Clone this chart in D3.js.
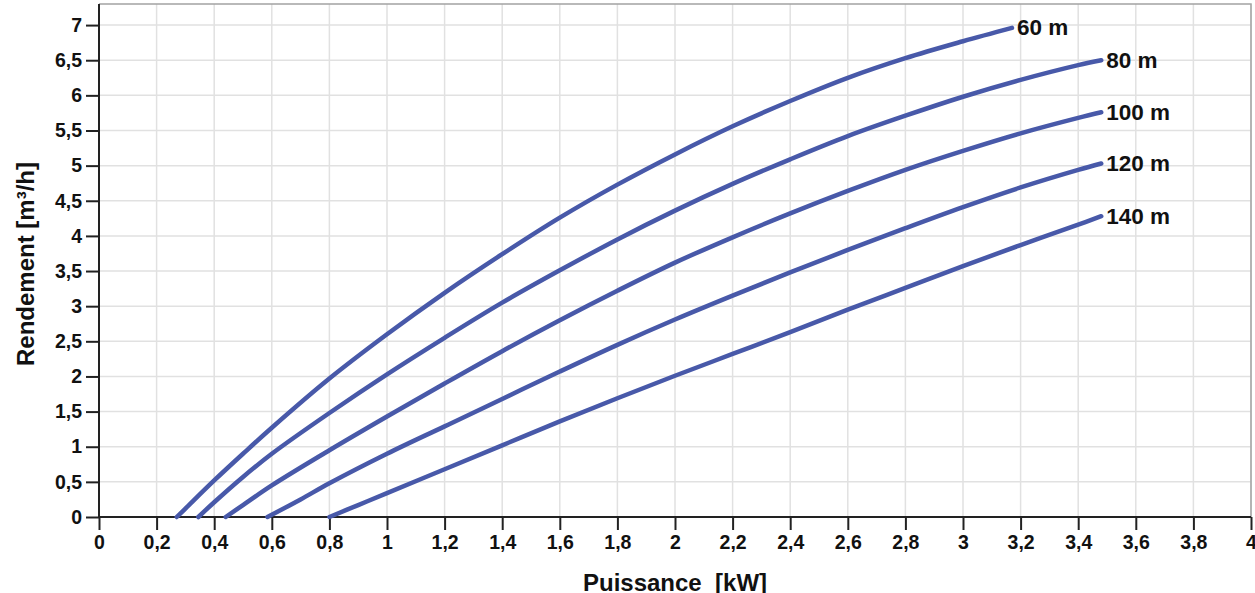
<!DOCTYPE html>
<html>
<head>
<meta charset="utf-8">
<title>Rendement / Puissance</title>
<script src="https://cdn.jsdelivr.net/npm/d3@7"></script>
<style>
    body { margin: 0; background: #fff; }
    svg text { font-family: "Liberation Sans", Arial, sans-serif; font-weight: bold; fill: #111; }
    .grid line { stroke: #e1e1e1; stroke-width: 1.5; }
    .axis path, .axis line { stroke: #222; stroke-width: 2; }
    .curve { fill: none; stroke: #4859a9; stroke-width: 4.5; stroke-linecap: round; }
</style>
</head>
<body>
<svg id="chart" width="1255" height="593"></svg>
<script>
    // tick values
    var xTicks = [0, 0.2, 0.4, 0.6, 0.8, 1, 1.2, 1.4, 1.6, 1.8, 2, 2.2, 2.4, 2.6, 2.8, 3, 3.2, 3.4, 3.6, 3.8, 4];
    var yTicks = [0, 0.5, 1, 1.5, 2, 2.5, 3, 3.5, 4, 4.5, 5, 5.5, 6, 6.5, 7];

    // one curve per head height
    var heads = ["60 m", "80 m", "100 m", "120 m", "140 m"];

    var kw60 = [0.27, 0.3, 0.4, 0.5, 0.6, 0.8, 1.0, 1.2, 1.4, 1.6, 1.8, 2.0, 2.2, 2.4, 2.6, 2.8, 3.0, 3.17];
    var q60  = [0, 0.12, 0.52, 0.90, 1.27, 1.97, 2.60, 3.19, 3.74, 4.26, 4.73, 5.16, 5.56, 5.92, 6.25, 6.53, 6.77, 6.96];

    var kw80 = [0.345, 0.4, 0.5, 0.6, 0.8, 1.0, 1.2, 1.4, 1.6, 1.8, 2.0, 2.2, 2.4, 2.6, 2.8, 3.0, 3.2, 3.4, 3.48];
    var q80  = [0, 0.21, 0.57, 0.90, 1.48, 2.03, 2.55, 3.05, 3.51, 3.95, 4.36, 4.74, 5.09, 5.42, 5.71, 5.98, 6.22, 6.43, 6.50];

    var kw100 = [0.44, 0.5, 0.6, 0.8, 1.0, 1.2, 1.4, 1.6, 1.8, 2.0, 2.2, 2.4, 2.6, 2.8, 3.0, 3.2, 3.4, 3.48];
    var q100  = [0, 0.17, 0.45, 0.95, 1.43, 1.90, 2.36, 2.80, 3.22, 3.62, 3.98, 4.32, 4.64, 4.94, 5.21, 5.46, 5.68, 5.76];

    var kw120 = [0.585, 0.7, 0.8, 1.0, 1.2, 1.4, 1.6, 1.8, 2.0, 2.2, 2.4, 2.6, 2.8, 3.0, 3.2, 3.4, 3.48];
    var q120  = [0, 0.25, 0.48, 0.90, 1.29, 1.68, 2.07, 2.45, 2.81, 3.15, 3.48, 3.80, 4.11, 4.41, 4.69, 4.94, 5.03];

    var kw140 = [0.8, 0.9, 1.0, 1.2, 1.4, 1.6, 1.8, 2.0, 2.2, 2.4, 2.6, 2.8, 3.0, 3.2, 3.4, 3.48];
    var q140  = [0, 0.17, 0.34, 0.68, 1.02, 1.36, 1.69, 2.01, 2.32, 2.63, 2.95, 3.26, 3.57, 3.87, 4.16, 4.28];

    var powers = [kw60, kw80, kw100, kw120, kw140];
    var flows = [q60, q80, q100, q120, q140];

    var margin = { left: 99, right: 4, top: 4, bottom: 76 };
    var W = 1255, H = 593;
    var svg = d3.select("#chart");

    var x = d3.scaleLinear().domain([0, 4]).range([margin.left, W - margin.right]);
    var y = d3.scaleLinear().domain([0, 7.3]).range([H - margin.bottom, margin.top]);

    var fr = d3.formatLocale({ decimal: ",", thousands: " ", grouping: [3], currency: ["", ""] });
    var fmt = fr.format("~g");

    // grid
    var grid = svg.append("g").attr("class", "grid");
    grid.selectAll(".v").data(xTicks.slice(1)).enter().append("line")
        .attr("x1", function(d) { return x(d); }).attr("x2", function(d) { return x(d); })
        .attr("y1", y(0)).attr("y2", margin.top);
    grid.selectAll(".h").data(yTicks.slice(1)).enter().append("line")
        .attr("x1", x(0)).attr("x2", W - margin.right)
        .attr("y1", function(d) { return y(d); }).attr("y2", function(d) { return y(d); });

    // frame top/right
    svg.append("path")
        .attr("d", "M" + x(0) + "," + margin.top + "H" + (W - margin.right) + "V" + y(0))
        .attr("fill", "none").attr("stroke", "#a3a3a3").attr("stroke-width", 1.5);

    // axes
    var xAxis = svg.append("g").attr("class", "axis")
        .attr("transform", "translate(0," + y(0) + ")")
        .call(d3.axisBottom(x).tickValues(xTicks).tickFormat(fmt).tickSize(13).tickSizeOuter(0).tickPadding(5));
    xAxis.selectAll("text").style("font-size", "19.5px").attr("fill", "#111");

    var yAxis = svg.append("g").attr("class", "axis")
        .attr("transform", "translate(" + x(0) + ",0)")
        .call(d3.axisLeft(y).tickValues(yTicks).tickFormat(fmt).tickSize(13).tickSizeOuter(0).tickPadding(4));
    yAxis.selectAll("text").style("font-size", "19.5px").attr("fill", "#111");
    xAxis.select(".domain").attr("d", "M" + x(0) + ",0H" + (W - margin.right));
    yAxis.select(".domain").attr("d", "M0," + y(0) + "V" + margin.top);

    // curves
    var line = d3.line()
        .x(function(d) { return x(d[0]); })
        .y(function(d) { return y(d[1]); })
        .curve(d3.curveCatmullRom.alpha(0.5));

    heads.forEach(function(name, i) {
        var pts = d3.zip(powers[i], flows[i]);
        svg.append("path").attr("class", "curve").attr("d", line(pts));
        var last = pts[pts.length - 1];
        svg.append("text")
            .attr("x", x(last[0]) + 5)
            .attr("y", y(last[1]))
            .attr("dominant-baseline", "central")
            .style("font-size", "22.5px")
            .text(name);
    });

    // axis titles
    svg.append("text")
        .attr("x", 675).attr("y", 591)
        .attr("text-anchor", "middle")
        .style("font-size", "24px")
        .style("white-space", "pre")
        .text("Puissance  [kW]");

    svg.append("text")
        .attr("transform", "translate(34,264) rotate(-90)")
        .attr("text-anchor", "middle")
        .style("font-size", "24px")
        .text("Rendement [m³/h]");
</script>
</body>
</html>
